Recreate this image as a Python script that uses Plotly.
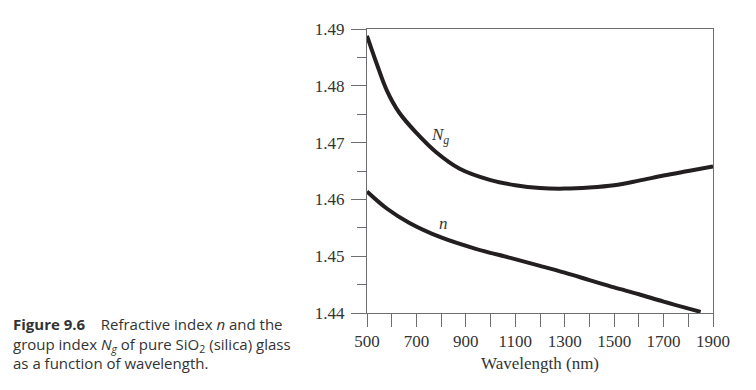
import plotly.graph_objects as go

# Group index N_g vs wavelength (nm)
wl_Ng = [500, 540, 580, 630, 700, 780, 875, 1000, 1100, 1200, 1300, 1400, 1500, 1600, 1700, 1800, 1900]
Ng = [1.4888, 1.4838, 1.4792, 1.4753, 1.4717, 1.4683, 1.4654, 1.4634, 1.4625, 1.4620, 1.4619, 1.4621,
      1.4625, 1.4633, 1.4642, 1.4650, 1.4658]

# Refractive index n vs wavelength (nm)
wl_n = [500, 580, 670, 800, 940, 1080, 1200, 1300, 1400, 1500, 1600, 1700, 1850]
n = [1.4614, 1.4584, 1.4559, 1.4533, 1.4513, 1.4497, 1.4483, 1.4471, 1.4458, 1.4445, 1.4433, 1.4420, 1.4402]

x_tickvals = [500, 700, 900, 1100, 1300, 1500, 1700, 1900]
x_minorvals = [600, 800, 1000, 1200, 1400, 1600, 1800]
y_tickvals = [1.44, 1.45, 1.46, 1.47, 1.48, 1.49]
y_ticktext = ["1.44", "1.45", "1.46", "1.47", "1.48", "1.49"]
y_minorvals = [1.445, 1.455, 1.465, 1.475, 1.485]

line_col = "#231f20"
axis_col = "#6d6e71"
serif = "Liberation Serif, Times New Roman, serif"
sans = "Open Sans, Roboto, sans-serif"

fig = go.Figure()
fig.add_trace(go.Scatter(x=wl_Ng, y=Ng, mode="lines", line=dict(color=line_col, width=4, shape="spline"),
                         showlegend=False, hoverinfo="skip"))
fig.add_trace(go.Scatter(x=wl_n, y=n, mode="lines", line=dict(color=line_col, width=4, shape="spline"),
                         showlegend=False, hoverinfo="skip"))

# page body has an 8px margin, so the figure is sized/offset to compensate
fig.update_layout(
    width=748, height=382,
    margin=dict(l=359, r=43, t=17, b=77),
    paper_bgcolor="white", plot_bgcolor="white",
    xaxis=dict(range=[500, 1900], tickmode="array", tickvals=x_tickvals,
               ticktext=[str(v) for v in x_tickvals],
               ticks="outside", ticklen=13, tickwidth=1, tickcolor=axis_col,
               minor=dict(tickvals=x_minorvals, ticks="outside", ticklen=13, tickwidth=1,
                          tickcolor=axis_col, showgrid=False),
               showline=True, linecolor=axis_col, linewidth=1, mirror=True,
               showgrid=False, zeroline=False,
               tickfont=dict(family=serif, size=17, color="#333333"),
               title=dict(text="Wavelength (nm)", font=dict(family=serif, size=17, color="#333333"), standoff=6)),
    yaxis=dict(range=[1.44, 1.49], tickmode="array", tickvals=y_tickvals, ticktext=y_ticktext,
               ticks="outside", ticklen=15, tickwidth=1, tickcolor=axis_col,
               minor=dict(tickvals=y_minorvals, ticks="outside", ticklen=9,
                          tickwidth=1, tickcolor=axis_col, showgrid=False),
               showline=True, linecolor=axis_col, linewidth=1, mirror=True,
               showgrid=False, zeroline=False, ticklabelstandoff=3,
               tickfont=dict(family=serif, size=17, color="#333333")),
)

fig.add_annotation(x=794, y=1.4711, xref="x", yref="y", showarrow=False,
                   text="<i>N<sub>g</sub></i>", font=dict(family=serif, size=17, color="#333333"))
fig.add_annotation(x=810, y=1.4557, xref="x", yref="y", showarrow=False,
                   text="<i>n</i>", font=dict(family=serif, size=17, color="#333333"))

caption = ("<b>Figure 9.6</b>\u00a0\u00a0\u00a0 Refractive index <i>n</i> and the<br>"
           "group index <i>N<sub>g</sub></i> of pure SiO<sub>2</sub> (silica) glass<br>"
           "as a function of wavelength.")
fig.add_annotation(x=(11 - 367) / 346, y=(312.7 - 344) / 288, xref="paper", yref="paper",
                   xanchor="left", yanchor="middle", showarrow=False, align="left",
                   text=caption, font=dict(family=sans, size=15, color="#333333"))

fig.write_html("out.html")
